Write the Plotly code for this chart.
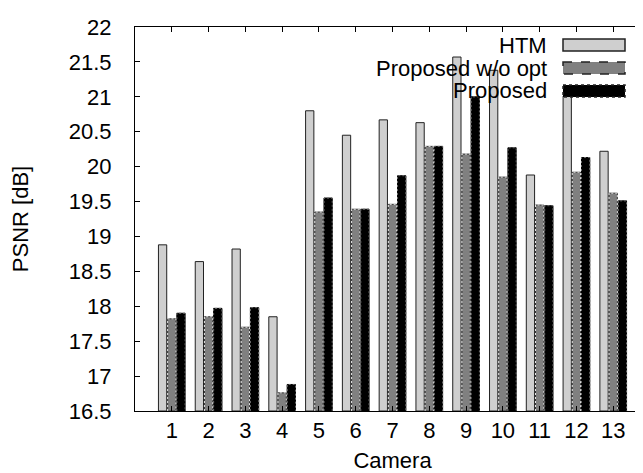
import plotly.graph_objects as go

cameras = list(range(1, 14))
htm = [18.88, 18.64, 18.82, 17.85, 20.80, 20.45, 20.67, 20.63, 21.57, 21.38, 19.88, 21.01, 20.22]
wo_opt = [17.82, 17.85, 17.70, 16.76, 19.35, 19.39, 19.46, 20.29, 20.18, 19.85, 19.45, 19.92, 19.62]
proposed = [17.90, 17.97, 17.98, 16.88, 19.55, 19.39, 19.87, 20.29, 21.00, 20.27, 19.44, 20.13, 19.51]
series_names = ["HTM", "Proposed w/o opt", "Proposed"]
y_ticks = [16.5, 17, 17.5, 18, 18.5, 19, 19.5, 20, 20.5, 21, 21.5, 22]

W, H = 643, 473
L, R, T, B = 127, 642, 19, 403
YMIN, YMAX = 16.5, 22
BW = 0.225
OFFS = [-0.25, 0.0, 0.25]
FONT = "Liberation Sans, Arial, Helvetica, sans-serif"
FS = 22

fills = ["#cfcfcf", "#808080", "#000000"]
borders = ["#222222", "#333333", "#000000"]

fig = go.Figure()
for vals, name, off, fc, bc in zip([htm, wo_opt, proposed], series_names, OFFS, fills, borders):
    fig.add_trace(go.Bar(
        x=cameras, y=[v - YMIN for v in vals], base=YMIN, name=name,
        width=BW, offset=off - BW / 2,
        marker=dict(color=fc, line=dict(color=bc, width=1)),
        showlegend=False,
    ))

# dashed outlines for the two proposed series
for vals, off, dc in [(wo_opt, 0.0, "#e8e8e8"), (proposed, 0.25, "#707070")]:
    xs, ys = [], []
    for c, v in zip(cameras, vals):
        x0, x1 = c + off - BW / 2, c + off + BW / 2
        xs += [x0, x0, x1, x1, None]
        ys += [YMIN, v, v, YMIN, None]
    fig.add_trace(go.Scatter(x=xs, y=ys, mode="lines", showlegend=False, hoverinfo="skip",
                             line=dict(color=dc, width=1, dash="2px,2px")))

def px(x):
    return (x - L) / (R - L)

def py(y):
    return (B - y) / (B - T)

# custom gnuplot-style legend (text right-aligned, key to the right)
legend_y = [37, 60, 83]
for name, yc, fc, dash in zip(series_names, legend_y, fills, [None, "dash", "dot"]):
    fig.add_annotation(text=name, xref="paper", yref="paper", x=px(541), y=py(yc),
                       xanchor="right", yanchor="middle", showarrow=False,
                       font=dict(family=FONT, size=FS, color="black"))
    fig.add_shape(type="rect", xref="paper", yref="paper",
                  x0=px(555), x1=px(617), y0=py(yc - 6), y1=py(yc + 6),
                  fillcolor=fc, line=dict(color="#222222", width=1.5, dash=dash if dash else "solid"))

fig.update_layout(
    width=W, height=H,
    margin=dict(l=L, r=W - R, t=T, b=H - B, pad=0),
    plot_bgcolor="white", paper_bgcolor="white",
    font=dict(family=FONT, size=FS, color="black"),
    barmode="overlay",
    xaxis=dict(range=[0, 14], tickvals=cameras, ticktext=[str(c) for c in cameras],
               ticks="inside", ticklen=5, tickcolor="black", showline=True, linecolor="black",
               linewidth=1, mirror="allticks", showgrid=False, zeroline=False,
               ticklabelstandoff=0,
               title=dict(text="Camera", standoff=10, font=dict(size=FS))),
    yaxis=dict(range=[YMIN, YMAX], tickvals=y_ticks, ticktext=[f"{v:g}" for v in y_ticks],
               ticks="inside", ticklen=5, tickcolor="black", showline=True, linecolor="black",
               linewidth=1, mirror="allticks", showgrid=False, zeroline=False,
               ticklabelstandoff=18,
               title=dict(text="PSNR [dB]", standoff=40, font=dict(size=FS))),
)

fig.write_html("out.html")
